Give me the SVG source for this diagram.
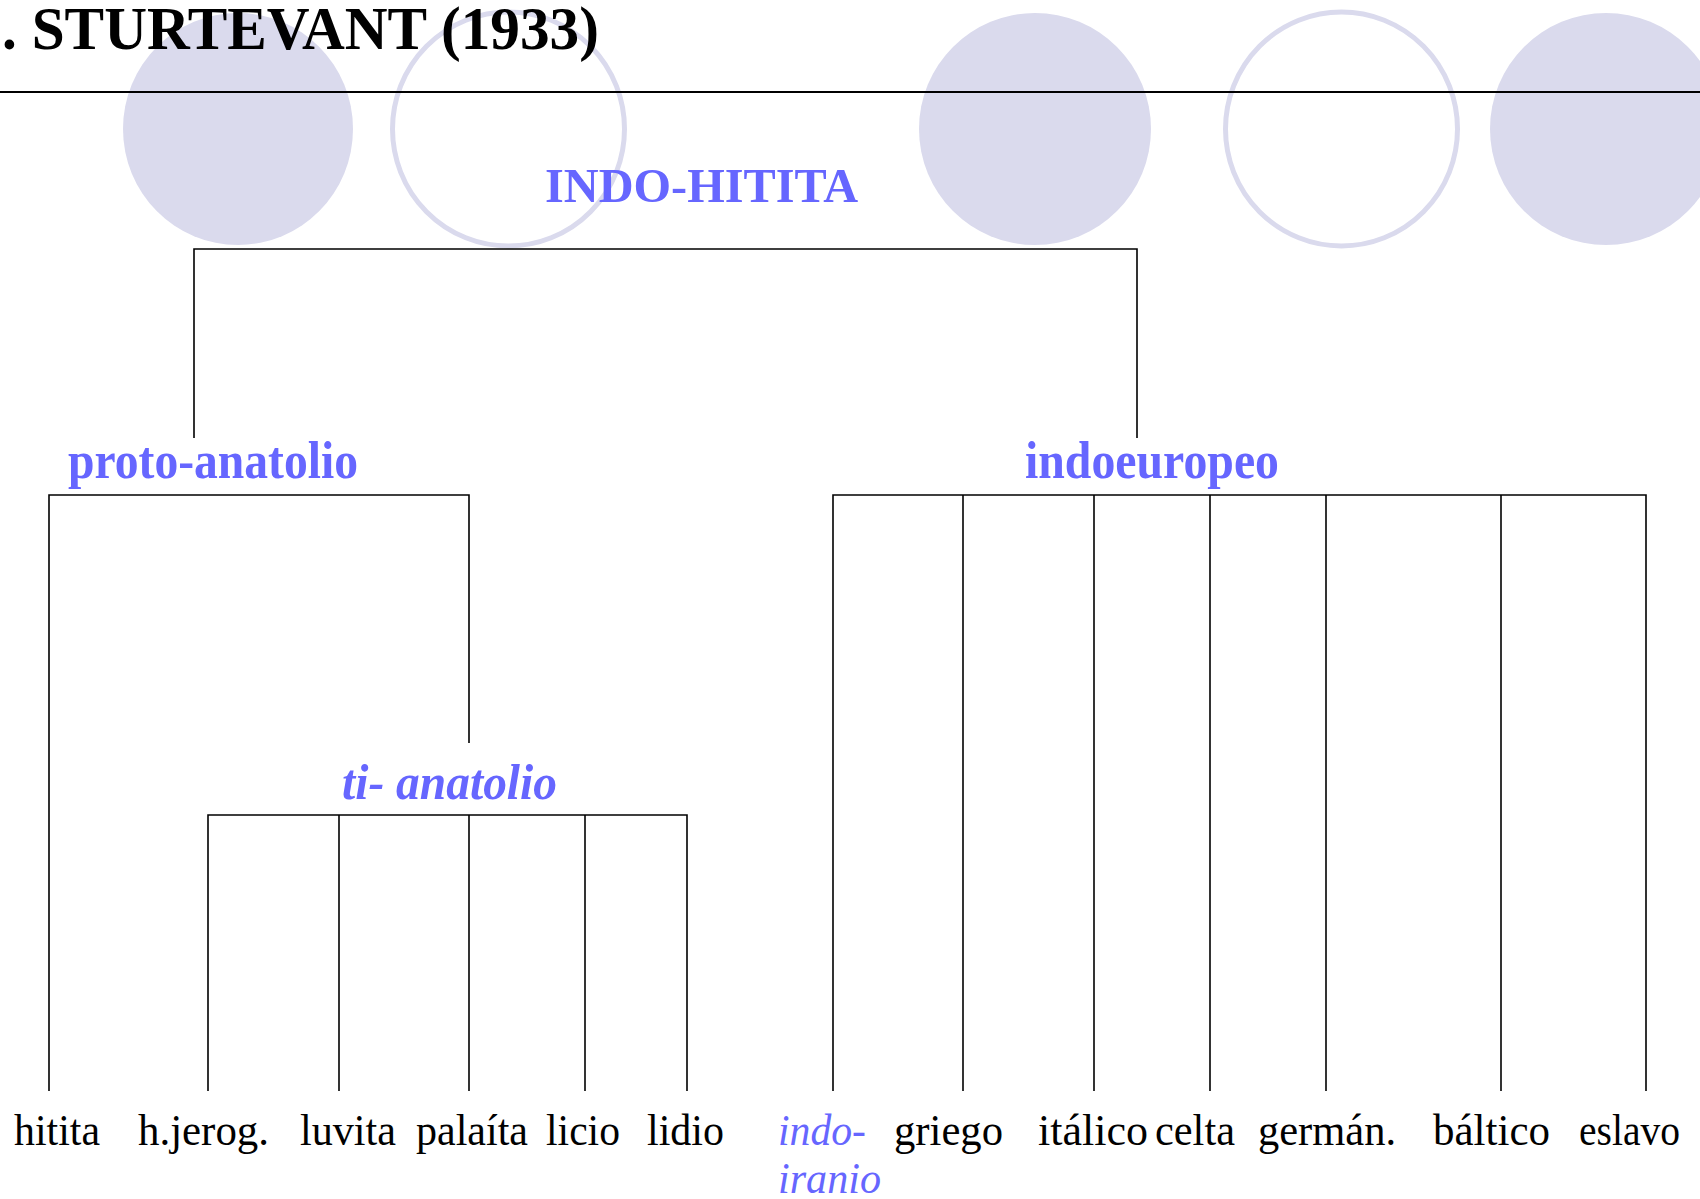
<svg xmlns="http://www.w3.org/2000/svg" width="1700" height="1199" viewBox="0 0 1700 1199">
<style>
.deco-f{fill:#DADAED;stroke:none}
.deco-o{fill:none;stroke:#DADAED;stroke-width:5}
.ln{stroke:#000;stroke-width:1.6;fill:none}
.title{font-family:"Liberation Serif",serif;font-weight:bold;font-size:62px;fill:#000}
.blue{font-family:"Liberation Serif",serif;font-weight:bold;fill:#6666FF}
.leaf{font-family:"Liberation Serif",serif;font-size:45px;fill:#000}
.leafi{font-family:"Liberation Serif",serif;font-size:45px;font-style:italic;fill:#6666FF}
</style>
<rect width="1700" height="1199" fill="#fff"/>
<g id="decoration">
<ellipse class="deco-f" cx="238" cy="129" rx="115" ry="116"/>
<ellipse class="deco-o" cx="508.5" cy="129" rx="116" ry="117"/>
<ellipse class="deco-f" cx="1035" cy="129" rx="116" ry="116"/>
<ellipse class="deco-o" cx="1341.5" cy="129" rx="116" ry="117"/>
<ellipse class="deco-f" cx="1606" cy="129" rx="116" ry="116"/>
</g>
<g id="title">
<text class="title" x="2" y="49" textLength="597" lengthAdjust="spacingAndGlyphs">. STURTEVANT (1933)</text>
<line x1="0" y1="92" x2="1700" y2="92" stroke="#000" stroke-width="2"/>
</g>
<g id="connectors">
<polyline class="ln" points="194,438 194,249 1137,249 1137,438"/>
<polyline class="ln" points="49,1091 49,495 469,495 469,743"/>
<polyline class="ln" points="208,1091 208,815 687,815 687,1091"/>
<line class="ln" x1="339" y1="815" x2="339" y2="1091"/>
<line class="ln" x1="469" y1="815" x2="469" y2="1091"/>
<line class="ln" x1="585" y1="815" x2="585" y2="1091"/>
<polyline class="ln" points="833,1091 833,495 1646,495 1646,1091"/>
<line class="ln" x1="963" y1="495" x2="963" y2="1091"/>
<line class="ln" x1="1094" y1="495" x2="1094" y2="1091"/>
<line class="ln" x1="1210" y1="495" x2="1210" y2="1091"/>
<line class="ln" x1="1326" y1="495" x2="1326" y2="1091"/>
<line class="ln" x1="1501" y1="495" x2="1501" y2="1091"/>
</g>
<g id="node-indo-hitita"><text class="blue" x="545" y="202" font-size="48" textLength="313" lengthAdjust="spacingAndGlyphs">INDO-HITITA</text></g>
<g id="node-proto-anatolio"><text class="blue" x="68" y="478" font-size="53" textLength="290" lengthAdjust="spacingAndGlyphs">proto-anatolio</text></g>
<g id="node-indoeuropeo"><text class="blue" x="1025" y="478" font-size="53" textLength="254" lengthAdjust="spacingAndGlyphs">indoeuropeo</text></g>
<g id="node-ti-anatolio"><text class="blue" x="342" y="799" font-size="50" font-style="italic" textLength="215" lengthAdjust="spacingAndGlyphs">ti- anatolio</text></g>
<g id="node-hitita"><text class="leaf" x="14" y="1145" textLength="86" lengthAdjust="spacingAndGlyphs">hitita</text></g>
<g id="node-hjerog"><text class="leaf" x="138" y="1145" textLength="131" lengthAdjust="spacingAndGlyphs">h.jerog.</text></g>
<g id="node-luvita"><text class="leaf" x="300" y="1145" textLength="96" lengthAdjust="spacingAndGlyphs">luvita</text></g>
<g id="node-palaita"><text class="leaf" x="416" y="1145" textLength="112" lengthAdjust="spacingAndGlyphs">palaíta</text></g>
<g id="node-licio"><text class="leaf" x="546" y="1145" textLength="74" lengthAdjust="spacingAndGlyphs">licio</text></g>
<g id="node-lidio"><text class="leaf" x="647" y="1145" textLength="77" lengthAdjust="spacingAndGlyphs">lidio</text></g>
<g id="node-indo-iranio">
<text class="leafi" x="778" y="1145" textLength="88" lengthAdjust="spacingAndGlyphs">indo-</text>
<text class="leafi" x="778" y="1193" textLength="103" lengthAdjust="spacingAndGlyphs">iranio</text>
</g>
<g id="node-griego"><text class="leaf" x="894" y="1145" textLength="109" lengthAdjust="spacingAndGlyphs">griego</text></g>
<g id="node-italico"><text class="leaf" x="1038" y="1145" textLength="110" lengthAdjust="spacingAndGlyphs">itálico</text></g>
<g id="node-celta"><text class="leaf" x="1155" y="1145" textLength="80" lengthAdjust="spacingAndGlyphs">celta</text></g>
<g id="node-german"><text class="leaf" x="1258" y="1145" textLength="138" lengthAdjust="spacingAndGlyphs">germán.</text></g>
<g id="node-baltico"><text class="leaf" x="1433" y="1145" textLength="117" lengthAdjust="spacingAndGlyphs">báltico</text></g>
<g id="node-eslavo"><text class="leaf" x="1579" y="1145" textLength="101" lengthAdjust="spacingAndGlyphs">eslavo</text></g>
</svg>
